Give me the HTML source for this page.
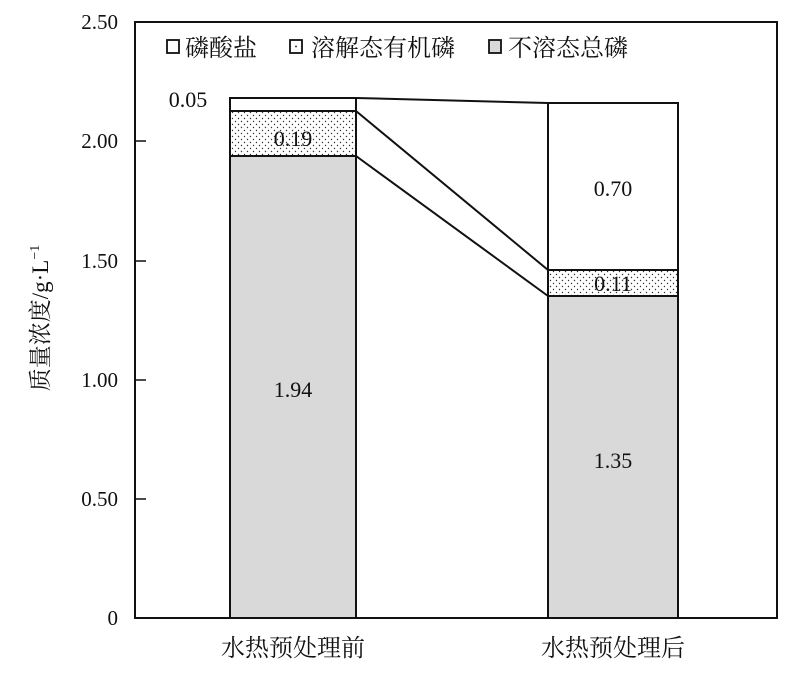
<!DOCTYPE html>
<html><head><meta charset="utf-8"><style>
html,body{margin:0;padding:0;background:#fff}
</style></head><body>
<svg width="800" height="670" xmlns="http://www.w3.org/2000/svg" font-family="'Liberation Serif','Noto Serif CJK SC',serif">
<defs>
<pattern id="dots" width="6" height="6" patternUnits="userSpaceOnUse">
<rect width="6" height="6" fill="#fff"/><circle cx="1.5" cy="1.5" r="0.7" fill="#333"/><circle cx="4.5" cy="4.5" r="0.7" fill="#333"/>
</pattern>
</defs>
<rect x="135" y="22" width="642" height="596" fill="none" stroke="#111" stroke-width="2"/>
<g stroke="#111" stroke-width="1.5">
<line x1="135" y1="141" x2="146" y2="141"/>
<line x1="135" y1="261" x2="146" y2="261"/>
<line x1="135" y1="380" x2="146" y2="380"/>
<line x1="135" y1="499" x2="146" y2="499"/>
</g>
<g font-size="21" text-anchor="end" fill="#111">
<text x="118" y="29">2.50</text>
<text x="118" y="148">2.00</text>
<text x="118" y="268">1.50</text>
<text x="118" y="387">1.00</text>
<text x="118" y="506">0.50</text>
<text x="118" y="625">0</text>
</g>
<text transform="translate(48,318) rotate(-90)" font-size="23" text-anchor="middle" fill="#111">质量浓度/g·L<tspan dy="-9" font-size="14">−1</tspan></text>
<rect x="230" y="156" width="126" height="462" fill="#d9d9d9" stroke="#111" stroke-width="2"/>
<rect x="230" y="111" width="126" height="45" fill="url(#dots)" stroke="#111" stroke-width="2"/>
<rect x="230" y="98" width="126" height="13" fill="#fff" stroke="#111" stroke-width="2"/>
<rect x="548" y="296" width="130" height="322" fill="#d9d9d9" stroke="#111" stroke-width="2"/>
<rect x="548" y="270" width="130" height="26" fill="url(#dots)" stroke="#111" stroke-width="2"/>
<rect x="548" y="103" width="130" height="167" fill="#fff" stroke="#111" stroke-width="2"/>
<g stroke="#111" stroke-width="2">
<line x1="356" y1="98" x2="548" y2="103"/>
<line x1="356" y1="111" x2="548" y2="270"/>
<line x1="356" y1="156" x2="548" y2="296"/>
</g>
<g font-size="22" text-anchor="middle" fill="#111">
<text x="188" y="107">0.05</text>
<text x="293" y="146">0.19</text>
<text x="293" y="397">1.94</text>
<text x="613" y="196">0.70</text>
<text x="613" y="291">0.11</text>
<text x="613" y="468">1.35</text>
</g>
<g font-size="24" fill="#111">
<rect x="167" y="40" width="12" height="13" fill="#fff" stroke="#111" stroke-width="1.8"/>
<text x="185" y="56">磷酸盐</text>
<rect x="290" y="40" width="12" height="13" fill="#fff" stroke="#111" stroke-width="1.8"/>
<circle cx="296" cy="46.5" r="0.9" fill="#111"/>
<text x="311" y="56">溶解态有机磷</text>
<rect x="489" y="40" width="12" height="13" fill="#d9d9d9" stroke="#111" stroke-width="1.8"/>
<text x="508" y="56">不溶态总磷</text>
</g>
<g font-size="24" text-anchor="middle" fill="#111">
<text x="293" y="656">水热预处理前</text>
<text x="613" y="656">水热预处理后</text>
</g>
</svg>
</body></html>
